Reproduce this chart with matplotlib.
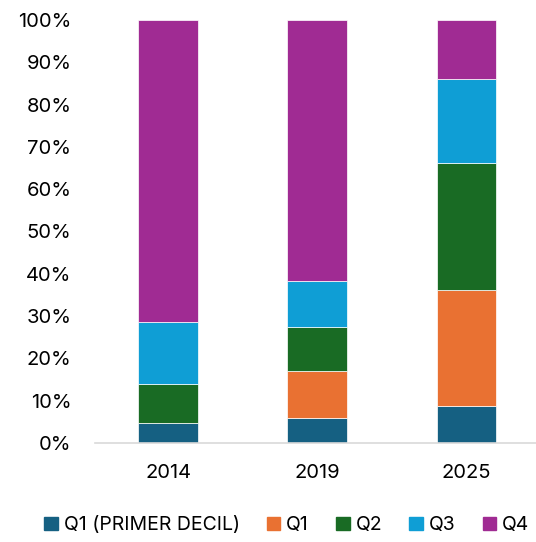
import matplotlib
matplotlib.use("Agg")
import matplotlib.pyplot as plt
from matplotlib.ticker import PercentFormatter
from matplotlib.patches import Patch
import numpy as np

plt.rcParams['font.family'] = ['Inter', 'DejaVu Sans']

years = ["2014", "2019", "2025"]
series_names = ["Q1 (PRIMER DECIL)", "Q1", "Q2", "Q3", "Q4"]
q1_primer = [4.6, 5.9, 8.7]
q1 = [0.0, 11.0, 27.5]
q2 = [9.4, 10.6, 30.1]
q3 = [14.6, 10.8, 19.7]
q4 = [71.4, 61.7, 14.0]
colors = ["#156082", "#E97132", "#196B24", "#0F9ED5", "#A02B93"]

fig = plt.figure(figsize=(5.36, 5.42), dpi=100)
ax = fig.add_axes([0.177, 0.183, 0.83, 0.78])

x = np.arange(len(years))
bottom = np.zeros(len(years))
for vals, c in zip([q1_primer, q1, q2, q3, q4], colors):
    ax.bar(x, vals, bottom=bottom, width=0.4, color=c, edgecolor="white", linewidth=0.5)
    bottom += np.array(vals)

ax.set_xlim(-0.49, 2.49)
ax.set_ylim(0, 100)
ax.set_yticks(np.arange(0, 101, 10))
ax.yaxis.set_major_formatter(PercentFormatter(decimals=0))
ax.set_xticks(x)
ax.set_xticklabels(years)
ax.tick_params(axis='both', length=0, labelsize=14.5, colors="#000000")
ax.tick_params(axis='y', pad=17)
ax.tick_params(axis='x', pad=15)
for s in ["top", "right", "left"]:
    ax.spines[s].set_visible(False)
ax.spines["bottom"].set_color("#d9d9d9")
ax.spines["bottom"].set_linewidth(1.2)

handles = [Patch(facecolor=c, edgecolor=c) for c in colors]
fig.legend(handles, series_names, loc="center", bbox_to_anchor=(0.535, 0.031),
           ncol=5, frameon=False, fontsize=14, handlelength=0.7, handleheight=0.7,
           handletextpad=0.3, columnspacing=1.4)

fig.savefig("out.png", dpi=100)
